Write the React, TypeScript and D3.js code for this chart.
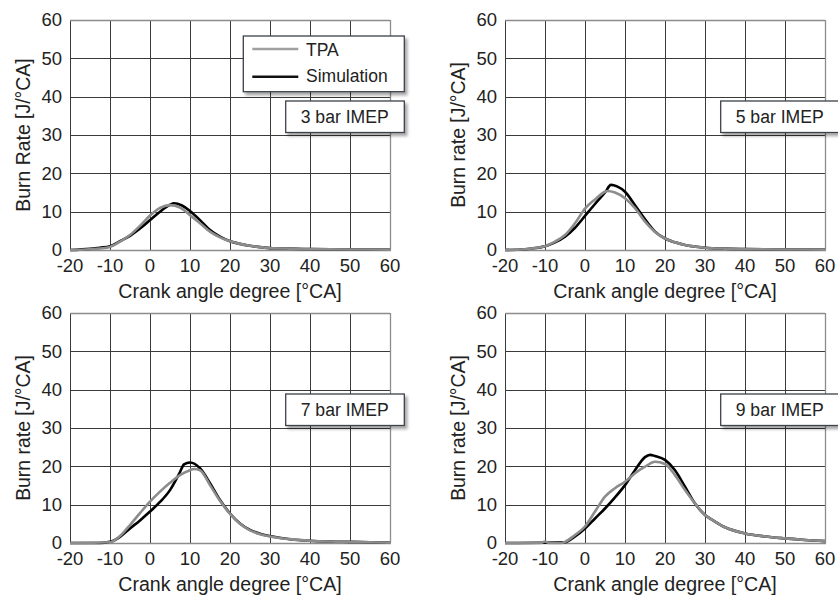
import React from "react";
import * as d3 from "d3";

// ---------- data ----------
const xTickValues = [-20, -10, 0, 10, 20, 30, 40, 50, 60];
const yTickValues = [0, 10, 20, 30, 40, 50, 60];
const seriesNames = ["TPA", "Simulation"];
const panelLabels = ["3 bar IMEP", "5 bar IMEP", "7 bar IMEP", "9 bar IMEP"];
const yTitles = ["Burn Rate [J/°CA]", "Burn rate [J/°CA]", "Burn rate [J/°CA]", "Burn rate [J/°CA]"];
const xTitle = "Crank angle degree [°CA]";

// 3 bar IMEP
const tpa3X = [-20, -15, -12.5, -10, -7.5, -5, -2.5, 0, 2.5, 5, 7.5, 10, 12.5, 15, 17.5, 20, 22.5, 25, 30, 35, 40, 50, 60];
const tpa3Y = [0, 0.2, 0.4, 0.8, 2.2, 3.9, 6.3, 9.0, 11.0, 11.7, 11.1, 9.1, 7.0, 4.8, 3.3, 2.3, 1.6, 1.1, 0.5, 0.35, 0.25, 0.15, 0.1];
const sim3X = [-20, -15, -12.5, -10, -7.5, -5, -2.5, 0, 2.5, 5, 6, 8, 10, 12.5, 15, 17.5, 20, 22.5, 25, 30, 35, 40, 50, 60];
const sim3Y = [0, 0.3, 0.6, 1.0, 2.3, 3.7, 5.6, 7.8, 10.0, 11.8, 12.2, 11.6, 10.2, 7.8, 5.2, 3.5, 2.3, 1.6, 1.1, 0.5, 0.35, 0.25, 0.15, 0.1];

// 5 bar IMEP
const tpa5X = [-20, -15, -12.5, -10, -7.5, -5, -2.5, 0, 2.5, 5, 5.5, 7.5, 10, 12.5, 15, 17.5, 20, 22.5, 25, 30, 35, 40, 50, 60];
const tpa5Y = [0, 0.2, 0.5, 1.0, 2.2, 3.9, 7.0, 10.8, 13.2, 15.2, 15.4, 15.0, 13.5, 10.9, 7.4, 4.7, 3.0, 2.0, 1.3, 0.6, 0.35, 0.25, 0.15, 0.1];
const sim5X = [-20, -15, -12.5, -10, -7.5, -5, -2.5, 0, 2.5, 5, 6.5, 8, 10, 12.5, 15, 17.5, 20, 22.5, 25, 30, 35, 40, 50, 60];
const sim5Y = [0, 0.2, 0.5, 1.0, 2.0, 3.5, 5.8, 8.9, 12.0, 15.0, 17.0, 16.6, 15.2, 11.7, 8.0, 4.8, 3.0, 2.0, 1.3, 0.6, 0.35, 0.25, 0.15, 0.1];

// 7 bar IMEP
const tpa7X = [-20, -10, -7.5, -5, -2.5, 0, 2.5, 5, 7.5, 10, 11, 12.5, 15, 17.5, 20, 22.5, 25, 27.5, 30, 35, 40, 45, 50, 55, 60];
const tpa7Y = [0, 0.2, 1.8, 4.7, 7.8, 10.8, 13.4, 15.7, 17.7, 19.0, 19.3, 19.0, 15.1, 11.0, 7.6, 5.0, 3.3, 2.3, 1.7, 1.0, 0.6, 0.4, 0.3, 0.2, 0.1];
const sim7X = [-20, -12.5, -10, -7.5, -5, -2.5, 0, 2.5, 5, 7.5, 8.5, 10, 12.5, 15, 17.5, 20, 22.5, 25, 27.5, 30, 35, 40, 45, 50, 55, 60];
const sim7Y = [0, 0, 0.3, 1.6, 3.8, 5.9, 8.2, 10.7, 13.8, 18.5, 20.5, 21.0, 19.5, 15.6, 11.2, 7.7, 5.1, 3.4, 2.4, 1.8, 1.0, 0.6, 0.4, 0.3, 0.2, 0.1];

// 9 bar IMEP
const tpa9X = [-20, -11, -10, -9, -6, -5, -2.5, 0, 2.5, 5, 7.5, 10, 12.5, 15, 17.5, 20, 22.5, 25, 27.5, 30, 32.5, 35, 40, 45, 50, 55, 60];
const tpa9Y = [0, 0, 0.4, 0, 0, 0.3, 2.1, 4.3, 8.2, 12.1, 14.3, 16.0, 18.2, 19.9, 21.2, 20.6, 17.7, 13.8, 10.3, 7.3, 5.6, 4.1, 2.5, 1.7, 1.2, 0.8, 0.5];
const sim9X = [-20, -5, -2.5, 0, 2.5, 5, 7.5, 10, 12.5, 15, 16.25, 17.5, 20, 22.5, 25, 27.5, 30, 32.5, 35, 40, 45, 50, 55, 60];
const sim9Y = [0, 0.2, 1.7, 3.8, 6.4, 9.0, 11.9, 15.1, 19.0, 22.4, 23.0, 22.7, 21.7, 19.0, 14.7, 10.3, 7.3, 5.6, 4.1, 2.5, 1.7, 1.2, 0.8, 0.5];

const tpaSeries = [
  [tpa3X, tpa3Y],
  [tpa5X, tpa5Y],
  [tpa7X, tpa7Y],
  [tpa9X, tpa9Y],
];
const simSeries = [
  [sim3X, sim3Y],
  [sim5X, sim5Y],
  [sim7X, sim7Y],
  [sim9X, sim9Y],
];

// ---------- layout ----------
const W = 838;
const H = 597;
const PW = 320;
const PH = 230;
const panelPos = [
  { left: 70, top: 20 },
  { left: 505, top: 20 },
  { left: 70, top: 313 },
  { left: 505, top: 313 },
];
const FONT = "'Liberation Sans', Arial, sans-serif";
const GRAY = "#8c8c8c";
const GRID = "#3a3a3a";
const TEXT = "#222";

const xScale = d3.scaleLinear().domain([-20, 60]).range([0, PW]);
const yScale = d3.scaleLinear().domain([0, 60]).range([PH, 0]);

const lineGen = d3
  .line<[number, number]>()
  .x((d) => xScale(d[0]))
  .y((d) => yScale(d[1]))
  .curve(d3.curveMonotoneX);

function toPts(xs: number[], ys: number[]): [number, number][] {
  return xs.map((x, i) => [x, ys[i]] as [number, number]);
}

function Panel({ idx }: { idx: number }) {
  const { left, top } = panelPos[idx];
  const tpa = tpaSeries[idx];
  const sim = simSeries[idx];
  const boxX = 215.7;
  const boxY = 81;
  const boxW = 118.6;
  const boxH = 31.5;
  return (
    <g transform={`translate(${left},${top})`}>
      <rect x={0} y={0} width={PW} height={PH} fill="#fff" />
      {xTickValues
        .filter((v) => v < 60)
        .map((v) => (
          <line
            key={"vx" + v}
            x1={Math.round(xScale(v)) + 0.5}
            x2={Math.round(xScale(v)) + 0.5}
            y1={0}
            y2={PH}
            stroke={GRID}
            strokeWidth={1}
          />
        ))}
      {yTickValues
        .filter((v) => v > 0 && v < 60)
        .map((v) => (
          <line
            key={"hy" + v}
            x1={0}
            x2={PW}
            y1={Math.round(yScale(v)) + 0.5}
            y2={Math.round(yScale(v)) + 0.5}
            stroke={GRID}
            strokeWidth={1}
          />
        ))}
      <line x1={0} x2={PW} y1={0.5} y2={0.5} stroke={GRAY} strokeWidth={1.3} />
      <line x1={PW + 0.5} x2={PW + 0.5} y1={0} y2={PH} stroke={GRAY} strokeWidth={1.3} />
      <line x1={0} x2={PW + 1} y1={PH + 0.5} y2={PH + 0.5} stroke={GRAY} strokeWidth={1.6} />
      <path d={lineGen(toPts(sim[0], sim[1])) || ""} fill="none" stroke="#000" strokeWidth={2.6} strokeLinejoin="round" />
      <path d={lineGen(toPts(tpa[0], tpa[1])) || ""} fill="none" stroke={GRAY} strokeWidth={2.6} strokeLinejoin="round" />
      {xTickValues.map((v) => (
        <text
          key={"xt" + v}
          x={xScale(v)}
          y={PH + 21.5}
          textAnchor="middle"
          fontFamily={FONT}
          fontSize={18.5}
          fill={TEXT}
        >
          {v}
        </text>
      ))}
      {yTickValues.map((v) => (
        <text
          key={"yt" + v}
          x={-8}
          y={yScale(v) + 6.3}
          textAnchor="end"
          fontFamily={FONT}
          fontSize={18.5}
          fill={TEXT}
        >
          {v}
        </text>
      ))}
      <text x={PW / 2} y={PH + 47.5} textAnchor="middle" fontFamily={FONT} fontSize={19.6} fill={TEXT}>
        {xTitle}
      </text>
      <text
        transform={`translate(-40,${PH / 2}) rotate(-90)`}
        textAnchor="middle"
        fontFamily={FONT}
        fontSize={19.4}
        fill={TEXT}
      >
        {yTitles[idx]}
      </text>
      <rect
        x={boxX}
        y={boxY}
        width={boxW}
        height={boxH}
        fill="#fff"
        stroke="#3c424a"
        strokeWidth={1.3}
        filter="url(#shadow)"
      />
      <text x={boxX + 15} y={boxY + boxH / 2 + 6.3} fontFamily={FONT} fontSize={17.6} fill={TEXT}>
        {panelLabels[idx]}
      </text>
      {idx === 0 && (
        <g>
          <rect
            x={173.3}
            y={16}
            width={161}
            height={55.7}
            fill="#fff"
            stroke="#3c424a"
            strokeWidth={1.3}
            filter="url(#shadow)"
          />
          <line x1={182.3} x2={228.3} y1={29} y2={29} stroke="#a0a0a0" strokeWidth={2.6} />
          <line x1={182.3} x2={228.3} y1={56.7} y2={56.7} stroke="#111" strokeWidth={2.6} />
          <text x={236} y={36} fontFamily={FONT} fontSize={17.5} fill={TEXT}>
            {seriesNames[0]}
          </text>
          <text x={236} y={62} fontFamily={FONT} fontSize={17.5} fill={TEXT}>
            {seriesNames[1]}
          </text>
        </g>
      )}
    </g>
  );
}

export default function App() {
  return (
    <svg
      width={W}
      height={H}
      viewBox={`0 0 ${W} ${H}`}
      style={{ position: "absolute", left: 0, top: 0, background: "#fff" }}
    >
      <defs>
        <filter id="shadow" x="-20%" y="-30%" width="150%" height="180%">
          <feDropShadow dx={2.5} dy={3} stdDeviation={1.8} floodColor="#000" floodOpacity={0.35} />
        </filter>
      </defs>
      <rect x={0} y={0} width={W} height={H} fill="#fff" />
      {[0, 1, 2, 3].map((i) => (
        <Panel key={i} idx={i} />
      ))}
    </svg>
  );
}
